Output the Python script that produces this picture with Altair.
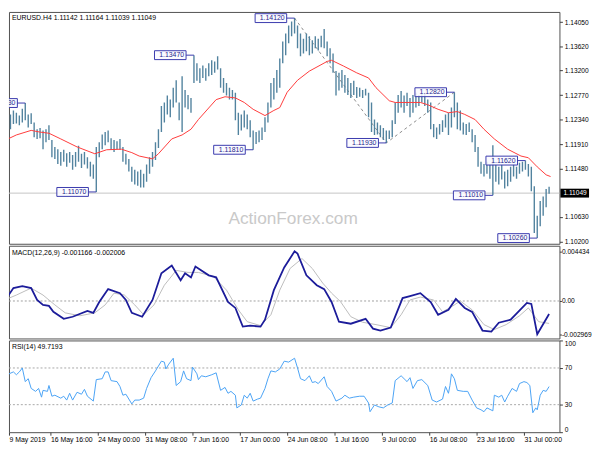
import json
import altair as alt
import pandas as pd

FONT = "Liberation Sans"
W = 558
H_MAIN, H_MACD, H_RSI = 235, 94, 93

# ---------------- price bars (one entry per two H4 bars) ----------------
bar_idx = list(range(1, 370, 2))
bar_high = [
    1.1207, 1.1238, 1.1243, 1.1250, 1.1246, 1.1241, 1.1253, 1.1263, 1.1243, 1.1245,
    1.1229, 1.1217, 1.1219, 1.1215, 1.1217, 1.1224, 1.1198, 1.1186, 1.1182, 1.1177,
    1.1181, 1.1175, 1.1177, 1.1172, 1.1177, 1.1188, 1.1174, 1.1177, 1.1168, 1.1160,
    1.1155, 1.1186, 1.1194, 1.1208, 1.1212, 1.1215, 1.1201, 1.1198, 1.1196, 1.1200,
    1.1186, 1.1174, 1.1165, 1.1151, 1.1146, 1.1143, 1.1146, 1.1139, 1.1155, 1.1168,
    1.1177, 1.1194, 1.1217, 1.1258, 1.1264, 1.1276, 1.1269, 1.1290, 1.1303, 1.1264,
    1.1310, 1.1286, 1.1277, 1.1272, 1.1347, 1.1333, 1.1324, 1.1329, 1.1324, 1.1333,
    1.1338, 1.1336, 1.1345, 1.1324, 1.1307, 1.1298, 1.1290, 1.1286, 1.1281, 1.1246,
    1.1243, 1.1250, 1.1243, 1.1233, 1.1215, 1.1212, 1.1215, 1.1220, 1.1238, 1.1264,
    1.1298, 1.1307, 1.1321, 1.1341, 1.1371, 1.1385, 1.1399, 1.1406, 1.1412, 1.1399,
    1.1385, 1.1376, 1.1385, 1.1380, 1.1373, 1.1380, 1.1376, 1.1381, 1.1393, 1.1371,
    1.1359, 1.1350, 1.1319, 1.1316, 1.1321, 1.1312, 1.1307, 1.1298, 1.1302, 1.1291,
    1.1290, 1.1286, 1.1288, 1.1281, 1.1264, 1.1234, 1.1229, 1.1224, 1.1219, 1.1215,
    1.1215, 1.1233, 1.1264, 1.1277, 1.1284, 1.1276, 1.1281, 1.1272, 1.1277, 1.1281,
    1.1277, 1.1280, 1.1281, 1.1269, 1.1264, 1.1226, 1.1220, 1.1226, 1.1233, 1.1243,
    1.1246, 1.1255, 1.1282, 1.1264, 1.1250, 1.1229, 1.1226, 1.1229, 1.1217, 1.1207,
    1.1186, 1.1160, 1.1156, 1.1160, 1.1155, 1.1189, 1.1155, 1.1151, 1.1155, 1.1143,
    1.1146, 1.1151, 1.1156, 1.1151, 1.1158, 1.1160, 1.1162, 1.1156, 1.1151, 1.1117,
    1.1065, 1.1091, 1.1099, 1.1112, 1.1116,
]
bar_low = [
    1.1174, 1.1207, 1.1217, 1.1226, 1.1227, 1.1224, 1.1229, 1.1233, 1.1220, 1.1226,
    1.1203, 1.1200, 1.1201, 1.1182, 1.1194, 1.1198, 1.1168, 1.1165, 1.1156, 1.1153,
    1.1160, 1.1151, 1.1158, 1.1146, 1.1151, 1.1160, 1.1149, 1.1155, 1.1148, 1.1134,
    1.1130, 1.1107, 1.1168, 1.1182, 1.1189, 1.1194, 1.1181, 1.1177, 1.1182, 1.1181,
    1.1160, 1.1155, 1.1143, 1.1125, 1.1120, 1.1118, 1.1115, 1.1115, 1.1125, 1.1139,
    1.1151, 1.1163, 1.1184, 1.1212, 1.1229, 1.1243, 1.1238, 1.1255, 1.1264, 1.1233,
    1.1212, 1.1255, 1.1252, 1.1246, 1.1298, 1.1302, 1.1298, 1.1307, 1.1302, 1.1310,
    1.1312, 1.1316, 1.1322, 1.1290, 1.1281, 1.1276, 1.1269, 1.1269, 1.1233, 1.1207,
    1.1215, 1.1220, 1.1217, 1.1203, 1.1181, 1.1191, 1.1194, 1.1198, 1.1212, 1.1229,
    1.1255, 1.1269, 1.1281, 1.1290, 1.1333, 1.1347, 1.1368, 1.1380, 1.1385, 1.1359,
    1.1345, 1.1350, 1.1354, 1.1347, 1.1350, 1.1359, 1.1355, 1.1361, 1.1359, 1.1345,
    1.1333, 1.1316, 1.1276, 1.1285, 1.1290, 1.1281, 1.1277, 1.1272, 1.1277, 1.1272,
    1.1274, 1.1272, 1.1276, 1.1238, 1.1212, 1.1207, 1.1208, 1.1203, 1.1198, 1.1193,
    1.1200, 1.1203, 1.1226, 1.1246, 1.1255, 1.1246, 1.1258, 1.1238, 1.1246, 1.1255,
    1.1258, 1.1264, 1.1258, 1.1246, 1.1217, 1.1203, 1.1200, 1.1208, 1.1212, 1.1220,
    1.1207, 1.1220, 1.1238, 1.1217, 1.1215, 1.1208, 1.1207, 1.1212, 1.1194, 1.1177,
    1.1151, 1.1139, 1.1134, 1.1139, 1.1130, 1.1101, 1.1125, 1.1120, 1.1129, 1.1113,
    1.1117, 1.1125, 1.1134, 1.1130, 1.1139, 1.1143, 1.1146, 1.1134, 1.1108, 1.1035,
    1.1026, 1.1047, 1.1065, 1.1080, 1.1104,
]

# moving average (bar index, price)
ma_points = [
    (0, 1.1196), (9, 1.1207), (19, 1.1215), (25, 1.1212), (31, 1.1210), (39, 1.1200),
    (50, 1.1186), (62, 1.1174), (70, 1.1181), (80, 1.1182), (87, 1.1176), (92, 1.1170),
    (101, 1.1165), (105, 1.1174), (114, 1.1200), (121, 1.1207), (127, 1.1217), (132, 1.1234),
    (144, 1.1269), (150, 1.1274), (157, 1.1272), (163, 1.1264), (169, 1.1252), (177, 1.1241),
    (183, 1.1250), (187, 1.1255), (192, 1.1282), (199, 1.1303), (207, 1.1319), (219, 1.1336),
    (222, 1.1338), (230, 1.1328), (239, 1.1316), (247, 1.1307), (252, 1.1290), (261, 1.1267),
    (265, 1.1264), (282, 1.1264), (287, 1.1260), (294, 1.1252), (301, 1.1246), (307, 1.1248),
    (312, 1.1243), (319, 1.1234), (325, 1.1217), (332, 1.1200), (341, 1.1182), (350, 1.1170),
    (355, 1.1167), (361, 1.1151), (367, 1.1137), (370, 1.1134),
]

# swing labels
pivot_idx = [15, 63, 129, 169, 197, 259, 305, 331, 353, 361]
pivot_price = [1.12630, 1.11070, 1.13470, 1.11810, 1.14120, 1.11930, 1.12820, 1.11010, 1.11620, 1.10260]
zigzag_idx = [197, 259, 305]
zigzag_price = [1.14120, 1.11930, 1.12820]

last_ohlc = [1.11142, 1.11164, 1.11039, 1.11049]
price_ticks = [1.1405, 1.1362, 1.1320, 1.1277, 1.1234, 1.1191, 1.1148, 1.1063, 1.1020]

# MACD (bar index, value)
macd_points = [
    (1, 0.0), (7, 0.00115), (13, 0.00132), (19, 0.00115), (23, 0.00009), (27, -0.00035),
    (31, -0.00044), (34, -0.00097), (41, -0.00159), (47, -0.00141), (57, -0.00088),
    (61, -0.00106), (65, -0.00009), (71, 0.00106), (79, 0.00070), (83, 0.00009),
    (87, -0.00106), (94, -0.00141), (101, 0.00009), (107, 0.00247), (114, 0.00317),
    (120, 0.00185), (123, 0.00247), (127, 0.00211), (130, 0.00308), (139, 0.00229),
    (144, 0.00211), (152, -0.00009), (157, -0.00062), (162, -0.00229), (167, -0.00220),
    (174, -0.00229), (177, -0.00167), (183, 0.00097), (190, 0.00300), (197, 0.004434),
    (199, 0.00423), (205, 0.00229), (212, 0.00141), (217, 0.00106), (222, -0.00009),
    (227, -0.00185), (235, -0.00203), (245, -0.00159), (250, -0.00247), (255, -0.00264),
    (262, -0.00238), (270, 0.00026), (275, 0.00044), (282, 0.00070), (289, -0.00009),
    (294, -0.00123), (301, -0.00079), (306, 0.00018), (312, -0.00062), (317, -0.00097),
    (324, -0.00264), (330, -0.00273), (335, -0.00194), (343, -0.00167), (354, -0.00018),
    (357, -0.00026), (361, -0.002969), (369, -0.001166),
]
signal_points = [
    (1, 0.00009), (9, 0.00053), (19, 0.00115), (27, 0.00053), (35, -0.00035), (42, -0.00106),
    (52, -0.00132), (62, -0.00106), (69, -0.00035), (75, 0.00070), (82, 0.00053),
    (89, -0.00035), (95, -0.00123), (102, -0.00035), (109, 0.00141), (117, 0.00273),
    (125, 0.00255), (132, 0.00255), (142, 0.00220), (151, 0.00097), (159, -0.00079),
    (165, -0.00185), (174, -0.00220), (181, -0.00123), (187, 0.00097), (194, 0.00291),
    (202, 0.00379), (209, 0.00290), (216, 0.00160), (222, 0.00070), (228, -0.00005),
    (235, -0.00140), (243, -0.00190), (252, -0.00211), (262, -0.00238), (269, -0.00123),
    (275, 0.00009), (282, 0.00035), (291, 0.00009), (297, -0.00097), (304, -0.00044),
    (309, 0.0), (317, -0.00079), (325, -0.00211), (332, -0.00255), (340, -0.00211),
    (349, -0.00132), (355, -0.00062), (362, -0.00185), (369, -0.002006),
]
macd_ticks = [0.004434, 0.0, -0.002969]
macd_tick_labels = ["0.004434", "0.00", "-0.002969"]

# RSI (bar index, value)
rsi_points = [
    (0, 48.8), (2, 58.3), (4, 63.6), (7, 65.7), (9, 62.6), (11, 65.7), (13, 70.0), (15, 55.1),
    (17, 58.3), (19, 47.7), (22, 44.5), (24, 47.7), (26, 38.2), (27, 45.6), (30, 44.5),
    (31, 50.9), (33, 39.2), (35, 40.3), (39, 37.1), (41, 39.2), (43, 35.0), (45, 42.4),
    (47, 35.0), (50, 43.5), (53, 41.4), (55, 46.7), (57, 39.2), (61, 33.9), (63, 57.3),
    (67, 58.3), (69, 65.7), (71, 65.7), (73, 56.2), (77, 55.1), (79, 49.8), (81, 40.3),
    (83, 41.4), (87, 30.8), (89, 35.0), (92, 35.0), (95, 37.1), (97, 47.7), (100, 59.4),
    (103, 66.8), (107, 77.4), (109, 76.4), (110, 68.9), (112, 74.2), (115, 80.6), (117, 50.9),
    (120, 55.1), (122, 66.8), (124, 58.3), (127, 56.2), (128, 71.0), (131, 63.6), (132, 57.3),
    (134, 61.5), (137, 60.4), (141, 62.6), (144, 64.7), (147, 45.6), (150, 48.8), (152, 42.4),
    (154, 44.5), (157, 40.3), (158, 26.5), (161, 29.7), (163, 40.3), (165, 37.1), (167, 42.4),
    (169, 33.9), (172, 36.1), (174, 37.1), (177, 47.7), (179, 58.3), (181, 66.8), (184, 65.7),
    (187, 68.9), (190, 77.4), (193, 76.4), (197, 80.6), (199, 70.0), (201, 58.3), (204, 56.2),
    (207, 61.5), (209, 54.1), (211, 55.1), (213, 53.0), (217, 60.4), (219, 49.8), (222, 44.5),
    (225, 33.9), (229, 37.1), (231, 40.3), (234, 37.1), (237, 38.2), (241, 39.2), (244, 39.2),
    (247, 31.8), (248, 22.3), (251, 29.7), (254, 27.6), (257, 26.5), (260, 29.7), (263, 31.8),
    (265, 56.2), (269, 61.5), (271, 58.3), (273, 55.1), (275, 59.4), (277, 47.7), (280, 56.2),
    (283, 57.3), (287, 50.9), (290, 35.0), (293, 32.9), (297, 36.1), (299, 49.8), (301, 42.4),
    (302, 50.9), (303, 63.6), (305, 58.3), (307, 45.6), (311, 44.5), (314, 44.5), (317, 35.0),
    (320, 26.5), (323, 24.4), (325, 22.3), (327, 26.5), (331, 23.3), (332, 40.3), (335, 38.2),
    (337, 40.3), (339, 32.9), (341, 39.2), (344, 47.7), (347, 44.5), (349, 53.0), (352, 55.1),
    (354, 54.1), (356, 50.9), (358, 21.2), (360, 26.5), (361, 24.4), (363, 40.3), (365, 45.6),
    (367, 44.5), (369, 49.7193),
]
rsi_ticks = [100, 70, 30, 0]
rsi_levels = [70, 30]

time_tick_idx = [4, 32, 64, 96, 128, 160, 192, 224, 256, 288, 320, 352]
time_tick_labels = ["9 May 2019", "16 May 16:00", "24 May 00:00", "31 May 08:00",
                    "7 Jun 16:00", "17 Jun 00:00", "24 Jun 08:00", "1 Jul 16:00",
                    "9 Jul 00:00", "16 Jul 08:00", "23 Jul 16:00", "31 Jul 00:00"]

# ---------------- frames ----------------
bars = pd.DataFrame({"idx": bar_idx, "high": bar_high, "low": bar_low})
ma = pd.DataFrame(ma_points, columns=["idx", "price"])
piv = pd.DataFrame({"idx": pivot_idx, "price": pivot_price,
                    "label": [f"{p:.5f}" for p in pivot_price]})
zz = pd.DataFrame({"idx": zigzag_idx, "price": zigzag_price})
last = pd.DataFrame({"price": [last_ohlc[3]], "label": [f"{last_ohlc[3]:.5f}"]})
title_df = pd.DataFrame({"t": ["EURUSD.H4  " + " ".join(f"{v:.5f}" for v in last_ohlc)]})
wm_df = pd.DataFrame({"t": ["ActionForex.com"]})
macd_df = pd.DataFrame(macd_points, columns=["idx", "v"])
sig_df = pd.DataFrame(signal_points, columns=["idx", "v"])
macd_title = pd.DataFrame({"t": [f"MACD(12,26,9) {macd_points[-1][1]:.6f} {signal_points[-1][1]:.6f}"]})
zero_df = pd.DataFrame({"v": [0.0]})
rsi_df = pd.DataFrame(rsi_points, columns=["idx", "v"])
rsi_lv = pd.DataFrame({"v": rsi_levels})
rsi_title = pd.DataFrame({"t": [f"RSI(14) {rsi_points[-1][1]:.4f}"]})

# ---------------- scales / axes ----------------
x_scale = alt.Scale(domain=[4, 376], nice=False, zero=False)
p_scale = alt.Scale(domain=[1.101605, 1.142283], nice=False, zero=False)
m_scale = alt.Scale(domain=[-0.003348, 0.004934], nice=False, zero=False)
r_scale = alt.Scale(domain=[0, 100], nice=False, zero=False)

p_axis = alt.Axis(orient="right", values=price_ticks, format=".5f", title=None,
                  tickSize=3, labelPadding=2, domain=False, grid=False)
m_axis = alt.Axis(orient="right", values=macd_ticks, title=None, tickSize=2, labelPadding=0,
                  domain=False, grid=False,
                  labelExpr=f"{json.dumps(macd_tick_labels)}[indexof({json.dumps(macd_ticks)}, datum.value)]")
r_axis = alt.Axis(orient="right", values=rsi_ticks, title=None, tickSize=3, labelPadding=2,
                  domain=False, grid=False, labelFlush=True)
t_axis = alt.Axis(orient="bottom", values=time_tick_idx, title=None, tickSize=3, labelPadding=0,
                  domain=False, grid=False, labelAlign="left", labelBaseline="top",
                  labelFontSize=7, labelOverlap=False, labelFlush=False,
                  labelExpr=f"{json.dumps(time_tick_labels)}[indexof({json.dumps(time_tick_idx)}, datum.value)]")


def X(field="idx"):
    return alt.X(f"{field}:Q", scale=x_scale, axis=None, title=None)


def PY(field):
    return alt.Y(f"{field}:Q", scale=p_scale, axis=p_axis, title=None)


def MY(field):
    return alt.Y(f"{field}:Q", scale=m_scale, axis=m_axis, title=None)


def RY(field):
    return alt.Y(f"{field}:Q", scale=r_scale, axis=r_axis, title=None)


BOX = "#3a3aae"

# ---------------- main panel ----------------
wm_layer = alt.Chart(wm_df).mark_text(font=FONT, fontSize=17.5, color="#c9c9c9",
                                      align="center", baseline="alphabetic").encode(
    x=alt.value(288), y=alt.value(215), text="t:N")
last_rule = alt.Chart(last).mark_rule(color="#c4c4c4", strokeWidth=1).encode(y=PY("price"))
zz_layer = alt.Chart(zz).mark_line(color="#8c8c8c", strokeDash=[3, 3], strokeWidth=1,
                                   clip=True).encode(x=X(), y=PY("price"))
bar_layer = alt.Chart(bars).mark_rule(color="#52839f", strokeWidth=1.4, clip=True).encode(
    x=X(), y=PY("high"), y2="low:Q")
ma_layer = alt.Chart(ma).mark_line(color="#ff3b3b", strokeWidth=1, clip=True).encode(
    x=X(), y=PY("price"))
box_layer = alt.Chart(piv).mark_rect(fill="#fafaff", fillOpacity=0.85, stroke=BOX, strokeWidth=1,
                                     xOffset=-40, x2Offset=-8, yOffset=-4.5, y2Offset=4.5,
                                     clip=True).encode(
    x=X(), x2="idx:Q", y=PY("price"), y2="price:Q")
conn_layer = alt.Chart(piv).mark_rule(color=BOX, strokeWidth=1, xOffset=-8, clip=True).encode(
    x=X(), x2="idx:Q", y=PY("price"))
ptext_layer = alt.Chart(piv).mark_text(font=FONT, fontSize=7, color="#1e1e8c", dx=-10,
                                       align="right", baseline="middle", clip=True).encode(
    x=X(), y=PY("price"), text="label:N")
title_layer = alt.Chart(title_df).mark_text(font=FONT, fontSize=7, color="#000000",
                                            align="left", baseline="top").encode(
    x=alt.value(3), y=alt.value(2), text="t:N")
lbox_layer = alt.Chart(last).mark_rect(color="#000000", yOffset=-4.5, y2Offset=4.5).encode(
    x=alt.value(W + 1), x2=alt.value(W + 30), y=PY("price"), y2="price:Q")
ltext_layer = alt.Chart(last).mark_text(font=FONT, fontSize=6.7, color="#ffffff",
                                        align="left", baseline="middle").encode(
    x=alt.value(W + 4), y=PY("price"), text="label:N")

main = alt.layer(wm_layer, last_rule, zz_layer, bar_layer, ma_layer, box_layer, conn_layer,
                 ptext_layer, title_layer, lbox_layer, ltext_layer).properties(width=W, height=H_MAIN)

# ---------------- MACD panel ----------------
zero_layer = alt.Chart(zero_df).mark_rule(color="#a0a0a0", strokeDash=[2, 2]).encode(y=MY("v"))
sig_layer = alt.Chart(sig_df).mark_line(color="#bdbdbd", strokeWidth=1, clip=True).encode(
    x=X(), y=MY("v"))
macd_layer = alt.Chart(macd_df).mark_line(color="#1c1c9a", strokeWidth=1.8, clip=True).encode(
    x=X(), y=MY("v"))
mt_layer = alt.Chart(macd_title).mark_text(font=FONT, fontSize=7, color="#000000",
                                           align="left", baseline="top").encode(
    x=alt.value(3), y=alt.value(3), text="t:N")
macd = alt.layer(zero_layer, sig_layer, macd_layer, mt_layer).properties(width=W, height=H_MACD)

# ---------------- RSI panel ----------------
lv_layer = alt.Chart(rsi_lv).mark_rule(color="#a8a8a8", strokeDash=[2, 2]).encode(y=RY("v"))
rsi_layer = alt.Chart(rsi_df).mark_line(color="#4aa3f5", strokeWidth=1, clip=True).encode(
    x=alt.X("idx:Q", scale=x_scale, axis=t_axis, title=None), y=RY("v"))
rt_layer = alt.Chart(rsi_title).mark_text(font=FONT, fontSize=7, color="#000000",
                                          align="left", baseline="top").encode(
    x=alt.value(3), y=alt.value(3), text="t:N")
rsi = alt.layer(lv_layer, rsi_layer, rt_layer).properties(width=W, height=H_RSI)

chart = alt.vconcat(main, macd, rsi, spacing=2, bounds="flush",
                    padding={"left": 0, "top": 0, "right": 0, "bottom": 0},
                    background="white").configure_view(
    stroke="#505050", strokeWidth=1
).configure_axis(
    labelFont=FONT, labelFontSize=6.7, labelColor="#000000", tickColor="#3c3c3c", tickWidth=1
)

chart.save("out.html", embed_options={"renderer": "svg", "actions": False})
